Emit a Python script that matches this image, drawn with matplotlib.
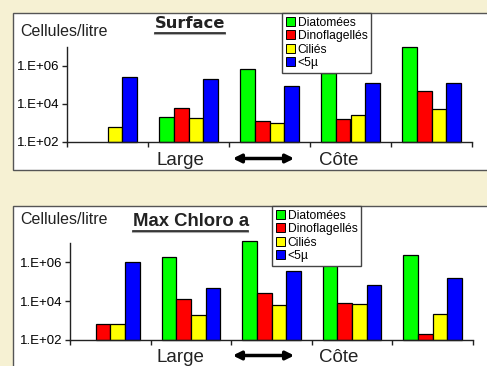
import matplotlib
matplotlib.use("Agg")
import matplotlib.pyplot as plt
import matplotlib.patches as patches
from matplotlib.lines import Line2D
from matplotlib.ticker import FixedLocator, NullLocator
import numpy as np

plt.rcParams['font.family'] = ['Liberation Sans', 'DejaVu Sans']

# Data (cells per litre), 5 stations from offshore to coast
series = ['Diatomées', 'Dinoflagellés', 'Ciliés', '<5µ']
colors = ['#00ff00', '#ff0000', '#ffff00', '#0000ff']

surface_diatom = [np.nan, 2.0e3, 7.0e5, 4.4e5, 9.5e6]
surface_dino = [np.nan, 5.9e3, 1.2e3, 1.6e3, 5.0e4]
surface_cilie = [6.0e2, 1.8e3, 1.0e3, 2.5e3, 5.2e3]
surface_small = [2.7e5, 2.1e5, 9.0e4, 1.3e5, 1.3e5]

chloro_diatom = [np.nan, 1.8e6, 1.3e7, 1.2e6, 2.3e6]
chloro_dino = [6.6e2, 1.26e4, 2.6e4, 8.0e3, 2.0e2]
chloro_cilie = [6.6e2, 1.9e3, 6.2e3, 7.0e3, 2.1e3]
chloro_small = [1.1e6, 4.6e4, 3.5e5, 6.6e4, 1.5e5]

ytick_vals = [1e2, 1e4, 1e6]
ytick_labels = ['1.E+02', '1.E+04', '1.E+06']

W, H = 487, 366
BG = '#f6f1d3'
fig = plt.figure(figsize=(W / 100, H / 100), dpi=100, facecolor=BG)


def px(x, y):
    # pixel (from top-left) -> figure fraction
    return x / W, 1 - y / H


def white_box(x0, y0, x1, y1):
    fx0, fy1 = px(x0, y0)
    fx1, fy0 = px(x1, y1)
    fig.patches.append(patches.Rectangle((fx0, fy0), fx1 - fx0, fy1 - fy0,
                                         transform=fig.transFigure, facecolor='white',
                                         edgecolor='#555555', lw=1.0, zorder=-1))


def panel(rect_px, data, title, title_font, title_size, title_xy, underline,
          label_y, legend_xy, bottom_y):
    x0, y0, x1, y1 = rect_px
    fx0, fy1 = px(x0, y0)
    fx1, fy0 = px(x1, y1)
    ax = fig.add_axes([fx0, fy0, fx1 - fx0, fy1 - fy0])
    ax.patch.set_visible(False)
    ax.set_yscale('log')
    ymin = 1e2
    n = len(data[0])
    w = 0.182
    for k, (vals, c) in enumerate(zip(data, colors)):
        for i, v in enumerate(vals):
            if np.isnan(v):
                continue
            ax.bar(i + 0.5 + (k - 1.5) * w, v - ymin, bottom=ymin, width=w,
                   color=c, edgecolor='black', linewidth=0.9, zorder=3,
                   clip_on=False)
    ax.set_xlim(0, n)
    ax.set_ylim(ymin, 1e7)
    for s in ['top', 'right']:
        ax.spines[s].set_visible(False)
    for s in ['left', 'bottom']:
        ax.spines[s].set_color('#222222')
        ax.spines[s].set_linewidth(1.0)
    ax.spines['bottom'].set_zorder(4)
    ax.yaxis.set_major_locator(FixedLocator(ytick_vals))
    ax.yaxis.set_minor_locator(NullLocator())
    ax.set_yticklabels(ytick_labels)
    ax.set_xticks(range(n + 1))
    ax.set_xticklabels([])
    ax.tick_params(axis='both', direction='out', length=3.5, width=1.0,
                   colors='#222222', labelsize=9.5, pad=2)
    ax.tick_params(axis='y', labelcolor='black')

    # titles and labels
    tx, ty = px(*title_xy)
    fig.text(tx, ty, title, fontsize=title_size, fontweight='bold',
             family=title_font, color='#222222', ha='center', va='center')
    ux0, uy = px(underline[0], underline[2])
    ux1, _ = px(underline[1], underline[2])
    fig.add_artist(Line2D([ux0, ux1], [uy - 0.003, uy - 0.003], transform=fig.transFigure,
                          color='#aaaaaa', lw=1.5))
    fig.add_artist(Line2D([ux0, ux1], [uy, uy], transform=fig.transFigure,
                          color='#222222', lw=1.2))
    cx, cy = px(20, label_y)
    fig.text(cx, cy, 'Cellules/litre', fontsize=11.5, color='#222222', ha='left', va='center')

    lx, ly = px(180, bottom_y)
    fig.text(lx, ly, 'Large', fontsize=13.5, color='#222222', ha='center', va='center')
    lx, ly = px(339, bottom_y)
    fig.text(lx, ly, 'Côte', fontsize=13.5, color='#222222', ha='center', va='center')
    a0 = px(230, bottom_y - 1.5)
    a1 = px(297, bottom_y - 1.5)
    fig.add_artist(patches.FancyArrowPatch(a0, a1, transform=fig.transFigure,
                                           arrowstyle='<|-|>', mutation_scale=12,
                                           lw=2.5, color='black'))

    handles = [patches.Patch(facecolor=c, edgecolor='black', lw=0.7, label=s)
               for s, c in zip(series, colors)]
    gx, gy = px(*legend_xy)
    leg = fig.legend(handles=handles, loc='upper left', bbox_to_anchor=(gx, gy),
                     bbox_transform=fig.transFigure, fontsize=8.7, frameon=True,
                     fancybox=False, framealpha=1, edgecolor='#444444',
                     handlelength=0.75, handleheight=0.75, handletextpad=0.25,
                     labelspacing=0.12, borderpad=0.3, borderaxespad=0)
    leg.get_frame().set_linewidth(1.0)
    return ax


white_box(12.5, 13, 500, 170)
white_box(12.5, 206, 500, 380)

panel((67, 47, 472, 142),
      [surface_diatom, surface_dino, surface_cilie, surface_small],
      'Surface', 'DejaVu Sans', 11.8, (190, 24), (155, 225, 33),
      31, (282, 13), 160)

panel((70, 243, 473, 340),
      [chloro_diatom, chloro_dino, chloro_cilie, chloro_small],
      'Max Chloro a', 'Liberation Sans', 13.3, (191, 222), (133, 248, 231),
      219, (272, 206), 357)

fig.savefig('out.png', dpi=100, facecolor=BG)
